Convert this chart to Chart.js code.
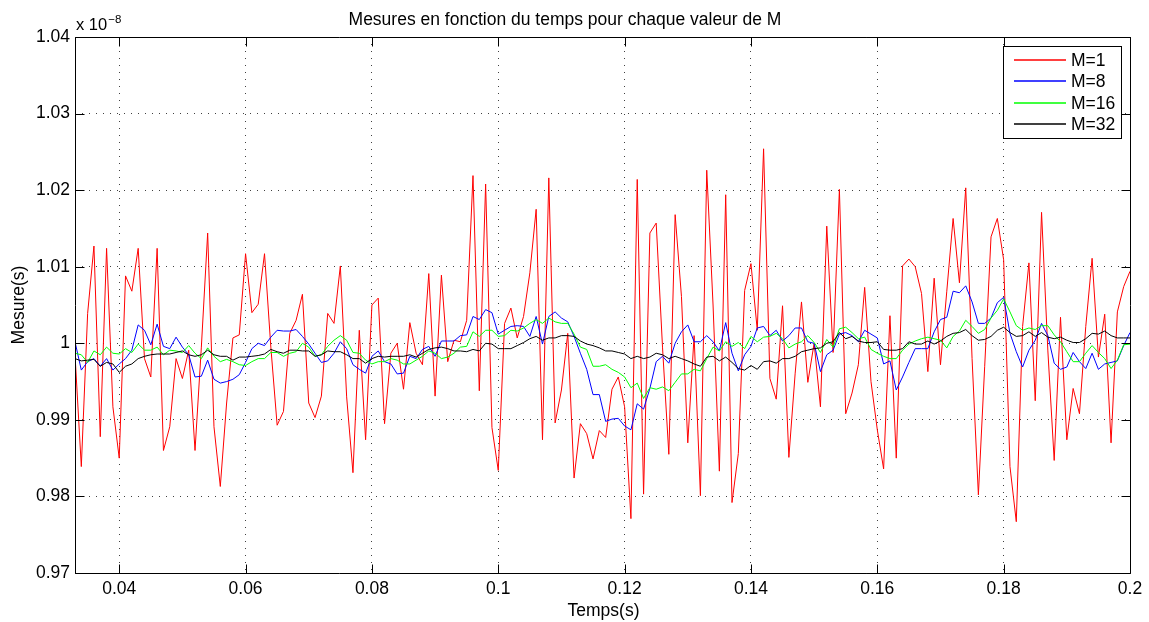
<!DOCTYPE html>
<html>
<head>
<meta charset="utf-8">
<title>Mesures en fonction du temps</title>
<script src="https://cdn.jsdelivr.net/npm/chart.js@4/dist/chart.umd.min.js"></script>
<style>
  html, body { margin: 0; padding: 0; background: #fff; }
  #wrap { width: 1149px; height: 622px; }
</style>
</head>
<body>
<div id="wrap"><canvas id="c" width="1149" height="622"></canvas></div>
<script>
// Sampling grid (s): first sample and sampling period
const tStart = 0.033;
const tStep = 0.001;

// Measured values, in units of 1e-8 s
const mesureM1 = [
  0.9985, 0.9839, 1.0039, 1.0127, 0.9878, 1.0124, 0.9917, 0.9850, 1.0088, 1.0068, 1.0124, 0.9980,
  0.9956, 1.0124, 0.9860, 0.9891, 0.9980, 0.9954, 0.9991, 0.9860, 0.9995, 1.0144, 0.9891, 0.9813,
  0.9922, 1.0007, 1.0011, 1.0117, 1.0040, 1.0051, 1.0117, 0.9995, 0.9893, 0.9911, 1.0013, 1.0030,
  1.0064, 0.9922, 0.9903, 0.9931, 1.0039, 1.0026, 1.0101, 0.9930, 0.9831, 1.0017, 0.9874, 1.0050,
  1.0059, 0.9895, 0.9987, 1.0000, 0.9940, 1.0027, 0.9987, 0.9972, 1.0091, 0.9931, 1.0089, 0.9976,
  1.0004, 1.0002, 1.0030, 1.0219, 0.9938, 1.0208, 0.9890, 0.9834, 1.0026, 1.0046, 1.0007, 1.0035,
  1.0092, 1.0175, 0.9874, 1.0216, 0.9896, 0.9939, 1.0013, 0.9824, 0.9895, 0.9882, 0.9849, 0.9886,
  0.9877, 0.9940, 0.9956, 0.9917, 0.9771, 1.0214, 0.9803, 1.0144, 1.0157, 0.9995, 0.9855, 1.0168,
  1.0061, 0.9870, 1.0010, 0.9801, 1.0226, 1.0050, 0.9833, 1.0194, 0.9792, 0.9856, 1.0069, 1.0104,
  1.0017, 1.0254, 0.9954, 0.9927, 1.0049, 0.9851, 0.9961, 1.0054, 0.9949, 1.0000, 0.9917, 1.0153,
  0.9988, 1.0201, 0.9908, 0.9935, 0.9972, 1.0073, 0.9950, 0.9887, 0.9836, 1.0036, 0.9850, 1.0101,
  1.0110, 1.0100, 1.0065, 0.9963, 1.0085, 0.9972, 1.0068, 1.0163, 1.0079, 1.0203, 0.9980, 0.9802,
  0.9970, 1.0139, 1.0163, 1.0109, 0.9839, 0.9767, 1.0022, 1.0105, 0.9925, 1.0171, 0.9990, 0.9847,
  1.0034, 0.9874, 0.9941, 0.9908, 1.0022, 1.0111, 0.9982, 1.0038, 0.9870, 1.0041, 1.0074, 1.0094
];
const mesureM8 = [
  1.0002, 0.9965, 0.9976, 0.9980, 0.9970, 0.9980, 0.9965, 0.9973, 0.9980, 0.9991, 1.0024, 1.0017,
  0.9998, 1.0025, 0.9996, 0.9993, 1.0008, 0.9995, 0.9985, 0.9956, 0.9957, 0.9978, 0.9953, 0.9948,
  0.9950, 0.9953, 0.9959, 0.9975, 0.9993, 1.0000, 0.9997, 1.0008, 1.0017, 1.0016, 1.0016, 1.0018,
  1.0009, 0.9999, 0.9987, 0.9975, 0.9977, 0.9987, 1.0002, 0.9993, 0.9972, 0.9966, 0.9961, 0.9983,
  0.9990, 0.9976, 0.9973, 0.9960, 0.9961, 0.9983, 0.9980, 0.9992, 0.9996, 0.9983, 1.0003, 1.0003,
  1.0003, 1.0010, 1.0011, 1.0035, 1.0031, 1.0044, 1.0040, 1.0012, 1.0017, 1.0022, 1.0023, 1.0022,
  1.0009, 1.0035, 0.9999, 1.0035, 1.0041, 1.0033, 1.0028, 1.0009, 0.9987, 0.9966, 0.9933, 0.9933,
  0.9898, 0.9901, 0.9902, 0.9892, 0.9887, 0.9921, 0.9914, 0.9941, 0.9976, 0.9983, 0.9974, 1.0000,
  1.0015, 1.0024, 1.0002, 1.0002, 1.0010, 1.0002, 0.9990, 1.0027, 0.9987, 0.9964, 0.9985, 0.9996,
  1.0020, 1.0022, 1.0010, 1.0017, 1.0003, 1.0010, 1.0020, 1.0020, 1.0002, 1.0000, 0.9963, 0.9985,
  0.9991, 1.0012, 1.0014, 1.0010, 1.0002, 1.0017, 1.0012, 1.0007, 0.9973, 0.9977, 0.9939, 0.9956,
  0.9975, 0.9993, 0.9993, 0.9993, 1.0015, 1.0031, 1.0034, 1.0068, 1.0066, 1.0075, 1.0054, 1.0026,
  1.0026, 1.0033, 1.0053, 1.0060, 1.0013, 0.9989, 0.9969, 0.9991, 1.0004, 1.0026, 1.0010, 0.9974,
  0.9966, 0.9969, 0.9988, 0.9976, 0.9967, 0.9987, 0.9966, 0.9973, 0.9975, 0.9977, 0.9997, 1.0014
];
const mesureM16 = [
  0.9987, 0.9985, 0.9975, 0.9990, 0.9985, 0.9995, 0.9987, 0.9986, 0.9993, 0.9988, 0.9999, 0.9991,
  0.9991, 0.9995, 0.9985, 0.9991, 0.9990, 0.9988, 0.9997, 0.9987, 0.9980, 0.9994, 0.9983, 0.9976,
  0.9979, 0.9976, 0.9972, 0.9971, 0.9976, 0.9980, 0.9980, 0.9988, 0.9988, 0.9983, 0.9987, 0.9989,
  1.0000, 0.9995, 0.9983, 0.9985, 0.9996, 1.0004, 1.0010, 1.0004, 0.9988, 0.9987, 0.9978, 0.9973,
  0.9976, 0.9976, 0.9980, 0.9978, 0.9973, 0.9973, 0.9978, 0.9983, 0.9990, 0.9987, 0.9980, 0.9982,
  0.9987, 0.9995, 0.9996, 1.0015, 1.0009, 1.0017, 1.0017, 1.0009, 1.0010, 1.0017, 1.0016, 1.0020,
  1.0026, 1.0031, 1.0026, 1.0033, 1.0028, 1.0026, 1.0026, 1.0012, 0.9995, 0.9992, 0.9970, 0.9970,
  0.9972, 0.9966, 0.9962, 0.9956, 0.9942, 0.9948, 0.9928, 0.9942, 0.9940, 0.9943, 0.9938, 0.9949,
  0.9960, 0.9960, 0.9966, 0.9964, 0.9980, 0.9995, 0.9990, 1.0002, 0.9996, 1.0001, 0.9993, 1.0009,
  1.0002, 1.0008, 1.0009, 1.0013, 1.0006, 0.9994, 0.9999, 1.0002, 1.0010, 1.0001, 0.9988, 1.0005,
  0.9995, 1.0019, 1.0021, 1.0014, 1.0006, 1.0008, 0.9992, 0.9987, 0.9983, 0.9980, 0.9980, 0.9991,
  0.9999, 1.0003, 1.0006, 1.0008, 1.0006, 1.0004, 0.9994, 1.0009, 1.0016, 1.0030, 1.0022, 1.0013,
  1.0018, 1.0033, 1.0043, 1.0058, 1.0041, 1.0023, 1.0017, 1.0020, 1.0018, 1.0023, 1.0023, 1.0011,
  1.0002, 0.9989, 0.9976, 0.9976, 0.9987, 0.9997, 0.9988, 0.9980, 0.9967, 0.9978, 0.9998, 0.9999
];
const mesureM32 = [
  0.9980, 0.9977, 0.9978, 0.9979, 0.9970, 0.9975, 0.9973, 0.9962, 0.9970, 0.9973, 0.9980, 0.9983,
  0.9985, 0.9986, 0.9986, 0.9986, 0.9988, 0.9990, 0.9985, 0.9983, 0.9985, 0.9991, 0.9985, 0.9983,
  0.9983, 0.9978, 0.9982, 0.9982, 0.9983, 0.9984, 0.9986, 0.9992, 0.9989, 0.9987, 0.9991, 0.9991,
  0.9990, 0.9990, 0.9983, 0.9985, 0.9990, 0.9989, 0.9989, 0.9985, 0.9980, 0.9980, 0.9974, 0.9980,
  0.9983, 0.9982, 0.9983, 0.9983, 0.9983, 0.9985, 0.9982, 0.9987, 0.9992, 0.9994, 0.9995, 0.9993,
  0.9990, 0.9990, 0.9989, 0.9992, 0.9990, 1.0000, 0.9999, 0.9993, 0.9993, 0.9993, 0.9997, 1.0001,
  1.0006, 1.0009, 1.0004, 1.0007, 1.0007, 1.0010, 1.0010, 1.0009, 1.0003, 0.9999, 0.9997, 0.9994,
  0.9990, 0.9990, 0.9988, 0.9986, 0.9980, 0.9983, 0.9980, 0.9982, 0.9987, 0.9985, 0.9980, 0.9983,
  0.9980, 0.9977, 0.9973, 0.9970, 0.9982, 0.9983, 0.9977, 0.9982, 0.9975, 0.9967, 0.9965, 0.9971,
  0.9966, 0.9976, 0.9977, 0.9974, 0.9980, 0.9980, 0.9983, 0.9989, 0.9991, 0.9993, 0.9994, 1.0000,
  1.0002, 1.0014, 1.0006, 1.0009, 1.0003, 1.0001, 1.0001, 1.0002, 0.9992, 0.9991, 0.9991, 0.9993,
  1.0002, 0.9999, 0.9999, 1.0003, 0.9999, 1.0003, 1.0009, 1.0013, 1.0014, 1.0018, 1.0010, 1.0004,
  1.0005, 1.0009, 1.0017, 1.0021, 1.0014, 1.0009, 1.0010, 1.0015, 1.0009, 1.0014, 1.0008, 1.0006,
  1.0008, 1.0004, 1.0001, 1.0001, 1.0006, 1.0013, 1.0012, 1.0016, 1.0010, 1.0007, 1.0007, 1.0007
];

const seriesLabels = ['M=1', 'M=8', 'M=16', 'M=32'];
const seriesColors = ['#ff0000', '#0000ff', '#00ff00', '#000000'];
const seriesValues = [mesureM1, mesureM8, mesureM16, mesureM32];

const xTicks = [0.04, 0.06, 0.08, 0.1, 0.12, 0.14, 0.16, 0.18, 0.2];
const yTicks = [0.97, 0.98, 0.99, 1, 1.01, 1.02, 1.03, 1.04];

const titleText = 'Mesures en fonction du temps pour chaque valeur de M';
const xTitle = 'Temps(s)';
const yTitle = 'Mesure(s)';
const FONT = '"Liberation Sans", Arial, Helvetica, sans-serif';
const FS = 17.5;

function toPoints(values) {
  return values.map((v, i) => ({ x: +(tStart + i * tStep).toFixed(3), y: v }));
}

const fmt = v => String(+v.toFixed(2));

// Box, inward tick marks, axis titles, exponent label and legend
const matlabFrame = {
  id: 'matlabFrame',
  afterDraw(chart) {
    const { ctx, chartArea: a, scales } = chart;
    const xs = scales.x, ys = scales.y;
    const tl = 9;
    ctx.save();
    ctx.strokeStyle = '#000';
    ctx.lineWidth = 1;
    ctx.beginPath();
    const L = Math.round(a.left) + 0.5, R = Math.round(a.right) + 0.5;
    const T = Math.round(a.top) + 0.5, B = Math.round(a.bottom) + 0.5;
    ctx.rect(L, T, R - L, B - T);
    xTicks.forEach(v => {
      const px = Math.round(xs.getPixelForValue(v)) + 0.5;
      ctx.moveTo(px, B); ctx.lineTo(px, B - tl);
      ctx.moveTo(px, T); ctx.lineTo(px, T + tl);
    });
    yTicks.forEach(v => {
      const py = Math.round(ys.getPixelForValue(v)) + 0.5;
      ctx.moveTo(L, py); ctx.lineTo(L + tl, py);
      ctx.moveTo(R, py); ctx.lineTo(R - tl, py);
    });
    ctx.stroke();

    ctx.fillStyle = '#000';
    // axis titles
    ctx.font = FS + 'px ' + FONT;
    ctx.textAlign = 'center';
    ctx.textBaseline = 'middle';
    ctx.fillText(xTitle, (a.left + a.right) / 2 + 1, 611);
    ctx.save();
    ctx.translate(19, (a.top + a.bottom) / 2);
    ctx.rotate(-Math.PI / 2);
    ctx.fillText(yTitle, 0, 0);
    ctx.restore();

    // exponent of the y axis
    ctx.textAlign = 'left';
    ctx.textBaseline = 'alphabetic';
    ctx.font = '16.5px ' + FONT;
    ctx.fillText('x 10', 76, 30);
    const w = ctx.measureText('x 10').width;
    ctx.font = '11.5px ' + FONT;
    ctx.fillText('\u22128', 76 + w + 1, 23);

    // legend
    const lx = 1003.5, ly = 46.5, lw = 118, lh = 92;
    ctx.fillStyle = '#fff';
    ctx.fillRect(lx, ly, lw, lh);
    ctx.strokeStyle = '#000';
    ctx.strokeRect(lx, ly, lw, lh);
    ctx.font = FS + 'px ' + FONT;
    ctx.textBaseline = 'middle';
    chart.data.datasets.forEach((ds, i) => {
      const y = 60 + i * 21.4;
      ctx.strokeStyle = ds.borderColor;
      ctx.lineWidth = 1.3;
      ctx.beginPath();
      ctx.moveTo(1014, Math.round(y));
      ctx.lineTo(1066, Math.round(y));
      ctx.stroke();
      ctx.fillStyle = '#000';
      ctx.fillText(ds.label, 1071, y + 1);
    });
    ctx.restore();
  }
};

const chart = new Chart(document.getElementById('c'), {
  type: 'line',
  data: {
    datasets: seriesValues.map((vals, i) => ({
      label: seriesLabels[i],
      data: toPoints(vals),
      borderColor: seriesColors[i],
      backgroundColor: seriesColors[i],
      borderWidth: 1,
      pointRadius: 0,
      tension: 0,
      fill: false,
      order: seriesValues.length - i
    }))
  },
  options: {
    responsive: false,
    animation: false,
    events: [],
    layout: { padding: { left: 0, top: 0, right: 19, bottom: 0 } },
    plugins: {
      legend: { display: false },
      tooltip: { enabled: false },
      title: {
        display: true,
        text: titleText,
        color: '#000',
        font: { family: FONT, size: FS, weight: 'normal', lineHeight: 1.2 },
        padding: { top: 9.5, bottom: 6.5 }
      }
    },
    scales: {
      x: {
        type: 'linear',
        min: tStart,
        max: 0.2,
        afterBuildTicks: s => { s.ticks = xTicks.map(v => ({ value: v })); },
        afterFit: s => { s.height = 49; },
        ticks: {
          color: '#000',
          font: { family: FONT, size: FS },
          padding: 6,
          maxRotation: 0,
          autoSkip: false,
          callback: v => fmt(v)
        },
        grid: { drawTicks: false, color: 'rgba(0,0,0,0.75)', lineWidth: 1 },
        border: { display: false, dash: [1, 6] }
      },
      y: {
        min: 0.97,
        max: 1.04,
        afterBuildTicks: s => { s.ticks = yTicks.map(v => ({ value: v })); },
        afterFit: s => { s.width = 75; },
        ticks: {
          color: '#000',
          font: { family: FONT, size: FS },
          padding: 5,
          autoSkip: false,
          callback: v => fmt(v)
        },
        grid: { drawTicks: false, color: 'rgba(0,0,0,0.75)', lineWidth: 1 },
        border: { display: false, dash: [1, 6] }
      }
    }
  },
  plugins: [matlabFrame]
});
</script>
</body>
</html>
